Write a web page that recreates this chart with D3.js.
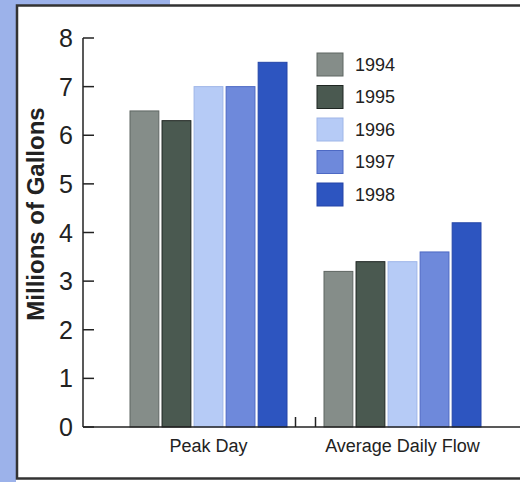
<!DOCTYPE html>
<html><head><meta charset="UTF-8">
<title>Millions of Gallons</title>
<script src="https://d3js.org/d3.v7.min.js"></script>
<style>
  body { margin: 0; background: #fff; }
  text { font-family: "Liberation Sans", Arial, sans-serif; fill: #222; }
</style>
</head>
<body>
<svg width="520" height="482"></svg>
<script>
  // data
  const groups = ["Peak Day", "Average Daily Flow"]
  const years = ["1994", "1995", "1996", "1997", "1998"]
  const peakDay = [6.5, 6.3, 7.0, 7.0, 7.5]
  const avgFlow = [3.2, 3.4, 3.4, 3.6, 4.2]
  const yTicks = [0, 1, 2, 3, 4, 5, 6, 7, 8]

  const fills = ["#858d89", "#4a5950", "#b6cbf6", "#6e89db", "#2d55c0"]
  const strokes = ["#5f6662", "#1f2622", "#9fb6e8", "#4d69c4", "#2445a8"]

  const rows = groups.map((g, i) => ({
    group: g,
    values: (i === 0 ? peakDay : avgFlow).map((v, j) => ({year: years[j], value: v}))
  }))

  const svg = d3.select("svg")

  // blue page background around the panel
  svg.append("rect").attr("x", 0).attr("y", 0).attr("width", 16).attr("height", 482).attr("fill", "#9cb2ea")
  svg.append("rect").attr("x", 0).attr("y", 0).attr("width", 170).attr("height", 5).attr("fill", "#9cb2ea")
  svg.append("rect")
    .attr("x", 17).attr("y", 5.5).attr("width", 520).attr("height", 473)
    .attr("fill", "#fff").attr("stroke", "#333").attr("stroke-width", 2.5)

  // scales
  const y = d3.scaleLinear().domain([0, 8]).range([427, 38])
  const x0 = d3.scaleBand().domain(groups).range([111.5, 499.5]).padding(0)
  const x1 = d3.scaleBand().domain(years).range([18.5, 175.5]).paddingInner(0.1)
  const color = d3.scaleOrdinal().domain(years).range(fills)
  const edge = d3.scaleOrdinal().domain(years).range(strokes)

  // bars
  const g = svg.append("g")
  g.selectAll("g.grp")
    .data(rows)
    .join("g")
      .attr("class", "grp")
      .attr("transform", d => "translate(" + x0(d.group) + ",0)")
    .selectAll("rect")
    .data(d => d.values)
    .join("rect")
      .attr("x", d => x1(d.year))
      .attr("y", d => y(d.value))
      .attr("width", x1.bandwidth())
      .attr("height", d => y(0) - y(d.value))
      .attr("fill", d => color(d.year))
      .attr("stroke", d => edge(d.year))
      .attr("stroke-width", 1)

  // y axis: line, inward ticks, labels on the left
  const axisX = 83
  svg.append("line")
    .attr("x1", axisX).attr("x2", axisX)
    .attr("y1", y(8)).attr("y2", y(0))
    .attr("stroke", "#222").attr("stroke-width", 1.5)
  svg.selectAll("line.tick")
    .data(yTicks)
    .join("line")
      .attr("class", "tick")
      .attr("x1", axisX).attr("x2", axisX + 11)
      .attr("y1", d => y(d)).attr("y2", d => y(d))
      .attr("stroke", "#222").attr("stroke-width", 1.5)
  svg.selectAll("text.ytick")
    .data(yTicks)
    .join("text")
      .attr("class", "ytick")
      .attr("x", 73)
      .attr("y", d => y(d))
      .attr("dy", "0.36em")
      .attr("text-anchor", "end")
      .style("font-size", "25px")
      .text(d => d)

  // x axis line with break marks between the groups
  svg.append("line")
    .attr("x1", axisX).attr("x2", 520)
    .attr("y1", y(0)).attr("y2", y(0))
    .attr("stroke", "#222").attr("stroke-width", 1.5)
  const mid = x0("Average Daily Flow")
  svg.selectAll("line.brk")
    .data([mid - 10, mid + 10])
    .join("line")
      .attr("class", "brk")
      .attr("x1", d => d).attr("x2", d => d)
      .attr("y1", y(0) - 10).attr("y2", y(0))
      .attr("stroke", "#222").attr("stroke-width", 1.5)

  svg.selectAll("text.xlab")
    .data(groups)
    .join("text")
      .attr("class", "xlab")
      .attr("x", d => x0(d) + x0.bandwidth() / 2)
      .attr("y", 452)
      .attr("text-anchor", "middle")
      .style("font-size", "18px")
      .text(d => d)

  // y axis title
  svg.append("text")
    .attr("transform", "translate(44,214) rotate(-90)")
    .attr("text-anchor", "middle")
    .style("font-size", "24px")
    .style("font-weight", "bold")
    .text("Millions of Gallons")

  // legend
  const lg = svg.append("g").attr("transform", "translate(317,53)")
  lg.selectAll("rect")
    .data(years)
    .join("rect")
      .attr("x", 0)
      .attr("y", (d, i) => i * 32.5)
      .attr("width", 26)
      .attr("height", 23)
      .attr("fill", d => color(d))
      .attr("stroke", d => edge(d))
      .attr("stroke-width", 1)
  lg.selectAll("text")
    .data(years)
    .join("text")
      .attr("x", 38)
      .attr("y", (d, i) => i * 32.5 + 11.5)
      .attr("dy", "0.36em")
      .style("font-size", "18px")
      .text(d => d)
</script>
</body></html>
